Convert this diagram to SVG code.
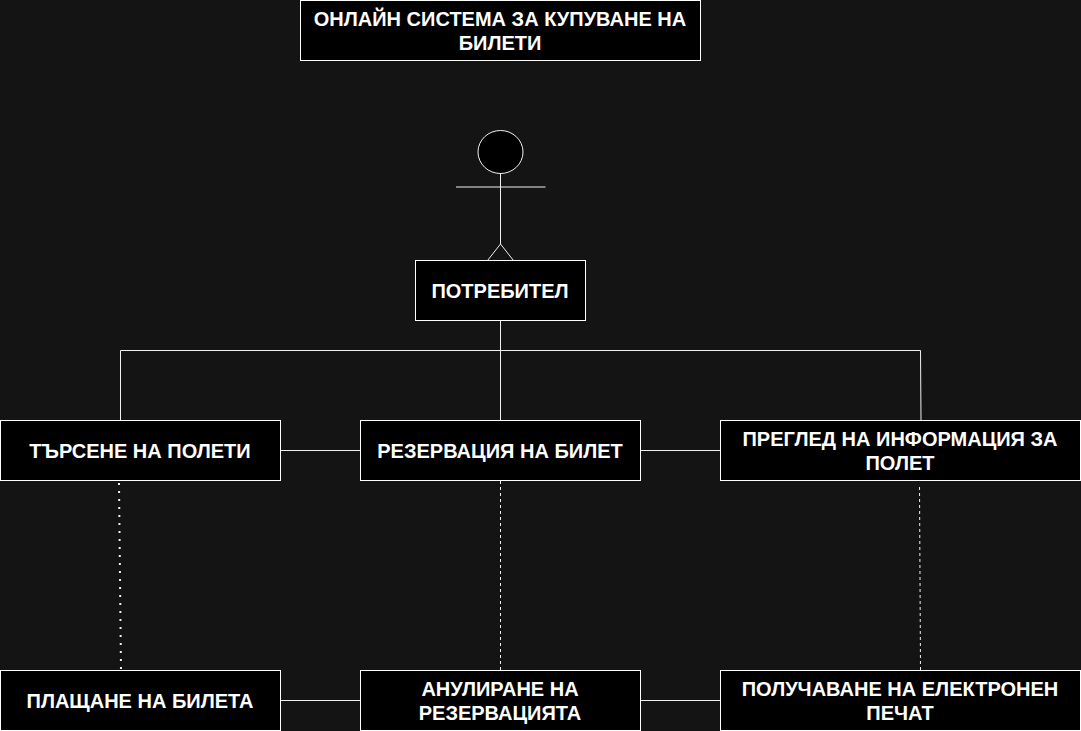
<svg xmlns="http://www.w3.org/2000/svg" width="1081" height="731" viewBox="0 0 1081 731">
<style>
.box{fill:#000;stroke:#fff;stroke-width:1}
.t{fill:#fff;font-family:"Liberation Sans",Arial,sans-serif;font-size:20px;font-weight:700;text-anchor:middle}
.c{fill:none;stroke:#f0f0f0;stroke-width:1}
.d{fill:none;stroke:#f0f0f0;stroke-width:1;stroke-dasharray:3 3}
.o{fill:none;stroke:#f0f0f0;stroke-width:2;stroke-dasharray:2 6}
</style>
<rect width="1081" height="731" fill="#141414"/>
<g id="connectors">
<path class="c" d="M500.5 320V420M500.5 350.500H120.500V420M500.5 350.500H920.500L921 420"/>
<path class="c" d="M280 450.500H360M640 450.500H720M280 700.500H360M640 700.500H720"/>
<path class="o" d="M119 483L121 670"/>
<path class="d" d="M500.500 481V670"/>
<path class="d" d="M920.500 670L919.500 484"/>
</g>
<g id="actor">
<ellipse cx="500.500" cy="152" rx="22.500" ry="21.500" fill="#000" stroke="#f0f0f0"/>
<path class="c" d="M500.500 173V244M456 187H545.500M500.500 244L487.500 260.500M500.500 244L513.500 260.500"/>
</g>
<g id="title"><rect class="box" x="300.500" y="0.500" width="400" height="60"/><text class="t" x="500" y="25.500">ОНЛАЙН СИСТЕМА ЗА КУПУВАНЕ НА</text><text class="t" x="500" y="49.500">БИЛЕТИ</text></g>
<g id="user"><rect class="box" x="415.500" y="260.500" width="170" height="60"/><text class="t" x="500" y="297.500">ПОТРЕБИТЕЛ</text></g>
<g id="search"><rect class="box" x="0.500" y="420.500" width="280" height="60"/><text class="t" x="140" y="457.500">ТЪРСЕНЕ НА ПОЛЕТИ</text></g>
<g id="reserve"><rect class="box" x="360.500" y="420.500" width="280" height="60"/><text class="t" x="500" y="457.500">РЕЗЕРВАЦИЯ НА БИЛЕТ</text></g>
<g id="info"><rect class="box" x="720.500" y="420.500" width="360" height="60"/><text class="t" x="900" y="445.500">ПРЕГЛЕД НА ИНФОРМАЦИЯ ЗА</text><text class="t" x="900" y="469.500">ПОЛЕТ</text></g>
<g id="pay"><rect class="box" x="0.500" y="670.500" width="280" height="60"/><text class="t" x="140" y="707.500">ПЛАЩАНЕ НА БИЛЕТА</text></g>
<g id="cancel"><rect class="box" x="360.500" y="670.500" width="280" height="60"/><text class="t" x="500" y="695.500">АНУЛИРАНЕ НА</text><text class="t" x="500" y="719.500">РЕЗЕРВАЦИЯТА</text></g>
<g id="ticket"><rect class="box" x="720.500" y="670.500" width="360" height="60"/><text class="t" x="900" y="695.500">ПОЛУЧАВАНЕ НА ЕЛЕКТРОНЕН</text><text class="t" x="900" y="719.500">ПЕЧАТ</text></g>
</svg>
